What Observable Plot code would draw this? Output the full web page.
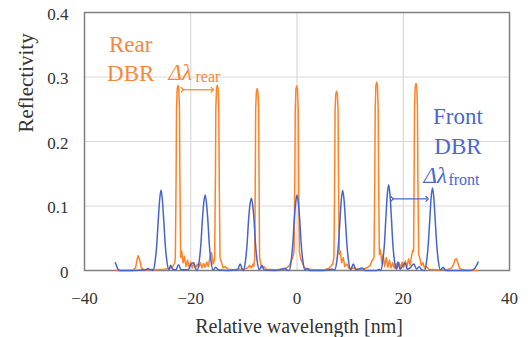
<!DOCTYPE html>
<html>
<head>
<meta charset="utf-8">
<script src="https://cdn.jsdelivr.net/npm/d3@7"></script>
<script src="https://cdn.jsdelivr.net/npm/@observablehq/plot@0.6"></script>
<style>
  html, body { margin: 0; padding: 0; background: #fff; }
  #chart svg { display: block; }
  #chart svg, #chart svg text { font-family: "Liberation Serif", "DejaVu Serif", "Noto Serif", serif !important; }
</style>
</head>
<body>
<div id="chart"></div>
<script>
// Relative wavelength [nm], reflectivity — rear DBR (orange)
const rearSpectrum = [
  [-34.0,0],[-31.0,0],[-30.4,0.004],[-30.1,0.017],[-29.9,0.023],[-29.6,0.016],[-29.3,0.004],[-28.8,0.001],
  [-27,0.001],[-25,0.002],[-24,0.003],[-23.4,0.006],[-23.0,0.012],
  [-22.9,0.02],[-22.75,0.15],[-22.68,0.25],[-22.55,0.282],[-22.4,0.287],[-22.25,0.282],[-22.12,0.25],[-22.05,0.15],[-21.9,0.02],
  [-21.7,0.03],[-21.45,0.012],[-21.2,0.022],[-20.9,0.006],[-20.6,0.016],[-20.3,0.005],[-20.0,0.013],[-19.7,0.004],
  [-19.4,0.012],[-19.1,0.004],[-18.8,0.01],[-18.5,0.005],[-18.2,0.012],[-17.9,0.004],[-17.6,0.011],[-17.3,0.005],
  [-17.0,0.013],[-16.7,0.006],[-16.4,0.02],[-16.1,0.028],[-15.8,0.01],[-15.6,0.015],
  [-15.5,0.02],[-15.35,0.15],[-15.28,0.25],[-15.15,0.282],[-15.0,0.287],[-14.85,0.282],[-14.72,0.25],[-14.65,0.15],[-14.5,0.02],
  [-14.2,0.012],[-13.9,0.004],[-13.5,0.006],[-13.0,0.002],[-12,0.001],[-11,0.002],[-10,0.002],[-9.3,0.004],
  [-8.9,0.008],[-8.6,0.004],[-8.3,0.01],[-8.15,0.006],
  [-7.95,0.02],[-7.85,0.15],[-7.78,0.25],[-7.65,0.277],[-7.5,0.282],[-7.35,0.277],[-7.22,0.25],[-7.15,0.15],[-7.05,0.02],
  [-6.85,0.012],[-6.6,0.004],[-6.2,0.006],[-5.8,0.002],[-4,0.001],[-2.5,0.002],[-1.8,0.005],[-1.4,0.008],[-1.1,0.015],[-0.8,0.02],
  [-0.55,0.03],[-0.4,0.15],[-0.33,0.25],[-0.2,0.281],[-0.05,0.286],[0.1,0.281],[0.23,0.25],[0.3,0.15],[0.45,0.03],
  [0.7,0.018],[1.0,0.012],[1.3,0.006],[1.7,0.003],[3,0.001],[5,0.001],[6.0,0.003],[6.5,0.008],[6.7,0.01],
  [6.95,0.02],[7.1,0.15],[7.17,0.25],[7.3,0.273],[7.45,0.278],[7.6,0.273],[7.73,0.25],[7.8,0.15],[7.95,0.025],
  [8.15,0.03],[8.4,0.012],[8.7,0.02],[9.0,0.006],[9.4,0.01],[9.8,0.003],[10.5,0.004],[11.5,0.002],[12.5,0.002],
  [13.3,0.005],[13.8,0.008],[14.1,0.015],
  [14.5,0.02],[14.65,0.15],[14.72,0.25],[14.85,0.287],[15.0,0.292],[15.15,0.287],[15.28,0.25],[15.35,0.15],[15.5,0.025],
  [15.7,0.032],[15.95,0.012],[16.2,0.025],[16.5,0.006],[16.8,0.02],[17.1,0.005],[17.4,0.016],[17.7,0.004],
  [18.0,0.012],[18.3,0.004],[18.6,0.01],[18.9,0.004],[19.2,0.012],[19.5,0.005],[19.8,0.013],[20.1,0.005],
  [20.4,0.015],[20.7,0.006],[21.0,0.018],[21.3,0.008],[21.6,0.025],[21.85,0.032],
  [21.95,0.03],[22.05,0.15],[22.12,0.25],[22.25,0.285],[22.4,0.29],[22.55,0.285],[22.68,0.25],[22.75,0.15],[22.9,0.025],
  [23.1,0.02],[23.4,0.008],[23.7,0.012],[24.0,0.004],[24.4,0.006],[24.8,0.002],[26,0.001],[28,0.001],
  [29.0,0.003],[29.5,0.01],[29.75,0.017],[30.0,0.018],[30.3,0.012],[30.6,0.003],[31.2,0.001],[32.5,0],[34.0,0]
];

// Front DBR (blue)
const frontSpectrum = [
  [-34.2,0.012],[-34.0,0.008],[-33.7,0.002],[-33.3,0],[-31,0],[-28.5,0.001],[-28.0,0.003],[-27.6,0.001],[-27.3,0.002],
  [-27.1,0],[-26.7,0.015],[-26.4,0.04],[-26.1,0.08],[-25.85,0.11],[-25.6,0.125],[-25.35,0.11],[-25.1,0.08],[-24.8,0.04],[-24.5,0.015],[-24.1,0.001],
  [-23.8,0.008],[-23.4,0.002],[-22.8,0.001],[-22.3,0.009],[-21.8,0.001],[-20.5,0.001],[-19.9,0.01],[-19.5,0.012],[-19.1,0.003],
  [-18.8,0],[-18.4,0.015],[-18.1,0.04],[-17.8,0.08],[-17.55,0.105],[-17.3,0.117],[-17.05,0.105],[-16.8,0.08],[-16.5,0.04],[-16.2,0.015],[-15.8,0.001],
  [-15.3,0.005],[-14.8,0.001],[-13,0],[-11.2,0.001],[-10.7,0.01],[-10.3,0.002],
  [-10.1,0],[-9.7,0.015],[-9.4,0.04],[-9.1,0.08],[-8.85,0.102],[-8.6,0.112],[-8.35,0.102],[-8.1,0.08],[-7.8,0.04],[-7.5,0.015],[-7.1,0.001],
  [-6.6,0.008],[-6.2,0.001],[-4,0],[-2.3,0.003],[-1.9,0.001],
  [-1.5,0],[-1.1,0.015],[-0.8,0.04],[-0.5,0.08],[-0.25,0.105],[0,0.117],[0.25,0.105],[0.5,0.08],[0.8,0.04],[1.1,0.015],[1.5,0.001],
  [1.9,0.003],[2.4,0],[5,0],[6.6,0.002],
  [7.1,0.001],[7.5,0.015],[7.8,0.04],[8.1,0.08],[8.35,0.11],[8.6,0.124],[8.85,0.11],[9.1,0.08],[9.4,0.04],[9.7,0.015],[10.1,0.001],
  [10.6,0.01],[11.1,0.001],[12.3,0.004],[12.8,0],[15.0,0],[15.5,0.002],
  [15.75,0],[16.15,0.015],[16.45,0.04],[16.75,0.085],[17.0,0.118],[17.25,0.133],[17.5,0.118],[17.75,0.085],[18.05,0.04],[18.35,0.015],[18.7,0.002],
  [19.0,0.013],[19.4,0.002],[19.8,0.006],[20.3,0.012],[20.8,0.002],[21.3,0.004],[22.0,0.01],[22.5,0.002],[23.0,0.006],[23.5,0.001],
  [24.0,0],[24.4,0.015],[24.7,0.04],[25.0,0.08],[25.25,0.113],[25.5,0.128],[25.75,0.113],[26.0,0.08],[26.3,0.04],[26.6,0.015],[27.0,0.001],
  [27.5,0.005],[28.0,0],[32.5,0],[33.3,0.002],[33.8,0.008],[34.1,0.013]
];

const xTicks = [-40, -20, 0, 20, 40];
const yTicks = [0, 0.1, 0.2, 0.3, 0.4];
const xGrid = [-20, 0, 20];
const yGrid = [0.1, 0.2, 0.3];

const ORANGE = "#ff8226";
const ORANGE_TEXT = "#f7873a";
const BLUE = "#4664cf";
const BLUE_TEXT = "#4a68cf";
const SERIF = "Liberation Serif, DejaVu Serif, serif";

const chart = Plot.plot({
  width: 531,
  height: 337,
  marginLeft: 84,
  marginRight: 22,
  marginTop: 12,
  marginBottom: 67,
  x: {domain: [-40, 40]},
  y: {domain: [0, 0.4]},
  style: {fontFamily: SERIF, fontSize: "17px", background: "#fff", color: "#333"},
  marks: [
    Plot.gridX(xGrid, {stroke: "#d9d9d9", strokeOpacity: 1, strokeWidth: 1.2}),
    Plot.gridY(yGrid, {stroke: "#d9d9d9", strokeOpacity: 1, strokeWidth: 1.2}),
    Plot.frame({stroke: "#808080", strokeWidth: 1.5}),
    Plot.axisX({ticks: xTicks, tickSize: 0, tickPadding: 21, label: null, fontSize: 17, fontFamily: SERIF,
      tickFormat: d => d < 0 ? "\u2212" + Math.abs(d) : String(d)}),
    Plot.axisY({ticks: yTicks, tickSize: 0, tickPadding: 16, label: null, fontSize: 17, fontFamily: SERIF, dy: 2,
      tickFormat: d => d === 0 ? "0" : String(d)}),
    Plot.line(rearSpectrum, {x: d => d[0], y: d => d[1], stroke: ORANGE, strokeWidth: 1.5, curve: "linear"}),
    Plot.line(frontSpectrum, {x: d => d[0], y: d => d[1], stroke: BLUE, strokeWidth: 1.5, curve: "monotone-x"}),
    // axis titles
    Plot.text(["Relative wavelength [nm]"], {frameAnchor: "bottom", lineAnchor: "bottom", dy: 62, dx: 2, fontSize: 20, fontFamily: SERIF, fill: "#333"}),
    Plot.text(["Reflectivity"], {frameAnchor: "left", lineAnchor: "top", rotate: -90, dx: -66, dy: -9, fontSize: 21, fontFamily: SERIF, fill: "#333"}),
    // rear annotations
    Plot.text(["Rear"], {x: -31.3, y: 0.338, lineAnchor: "bottom", fontSize: 23, fontFamily: SERIF, fill: ORANGE_TEXT}),
    Plot.text(["DBR"], {x: -31.3, y: 0.2935, lineAnchor: "bottom", fontSize: 23, fontFamily: SERIF, fill: ORANGE_TEXT}),
    Plot.text(["\u0394\u03bb"], {x: -24.2, y: 0.295, textAnchor: "start", lineAnchor: "bottom", fontSize: 23, fontFamily: SERIF, fontStyle: "italic", fill: ORANGE_TEXT}),
    Plot.text(["rear"], {x: -19.1, y: 0.2928, textAnchor: "start", lineAnchor: "bottom", fontSize: 16, fontFamily: SERIF, fill: ORANGE_TEXT}),
    Plot.link([0], {x1: -21.6, x2: -15.95, y1: 0.2802, y2: 0.2802, stroke: ORANGE, strokeWidth: 1.2, markerStart: "arrow", markerEnd: "arrow"}),
    // front annotations
    Plot.text(["Front"], {x: 30.3, y: 0.2273, lineAnchor: "bottom", fontSize: 23, fontFamily: SERIF, fill: BLUE_TEXT}),
    Plot.text(["DBR"], {x: 30.3, y: 0.1808, lineAnchor: "bottom", fontSize: 23, fontFamily: SERIF, fill: BLUE_TEXT}),
    Plot.text(["\u0394\u03bb"], {x: 23.8, y: 0.1353, textAnchor: "start", lineAnchor: "bottom", fontSize: 23, fontFamily: SERIF, fontStyle: "italic", fill: BLUE_TEXT}),
    Plot.text(["front"], {x: 28.5, y: 0.1324, textAnchor: "start", lineAnchor: "bottom", fontSize: 16, fontFamily: SERIF, fill: BLUE_TEXT}),
    Plot.link([0], {x1: 17.9, x2: 24.5, y1: 0.111, y2: 0.111, stroke: BLUE, strokeWidth: 1.2, markerStart: "arrow", markerEnd: "arrow"})
  ]
});

document.getElementById("chart").appendChild(chart);
</script>
</body>
</html>
